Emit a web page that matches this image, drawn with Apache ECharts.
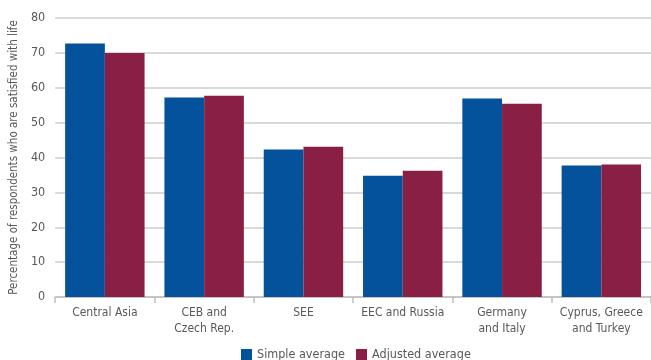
<!DOCTYPE html>
<html>
<head>
<meta charset="utf-8">
<script src="https://cdn.jsdelivr.net/npm/echarts@6/dist/echarts.min.js"></script>
<style>
  html, body { margin: 0; padding: 0; background: #fff; }
  #chart { width: 651px; height: 360px; }
</style>
</head>
<body>
<div id="chart"></div>
<script>
// regions on the x axis
var categories = ['Central Asia', 'CEB and\nCzech Rep.', 'SEE', 'EEC and Russia', 'Germany\nand Italy', 'Cyprus, Greece\nand Turkey'];
var simpleAvg = [72.7, 57.2, 42.3, 34.8, 56.9, 37.7];
var adjustedAvg = [70.0, 57.7, 43.1, 36.2, 55.4, 38.0];
var yTicks = [0, 10, 20, 30, 40, 50, 60, 70, 80];

var font = '"Liberation Sans Narrow", "DejaVu Sans Condensed", sans-serif';
var grey = '#595959';

var myChart = echarts.init(document.getElementById('chart'));
var option = {
  animation: false,
  textStyle: { fontFamily: font },
  grid: { left: 55, top: 18, width: 606, bottom: 63 },
  legend: {
    data: ['Simple average', 'Adjusted average'],
    top: 343,
    left: 236,
    icon: 'rect',
    itemWidth: 11,
    itemHeight: 11,
    itemGap: 11,
    textStyle: { color: grey, fontSize: 12.5, fontFamily: font }
  },
  xAxis: {
    type: 'category',
    data: categories,
    axisLine: { lineStyle: { color: '#bfbfbf', width: 1.5 } },
    axisTick: { show: true, length: 6, lineStyle: { color: '#bfbfbf', width: 1.5 } },
    axisLabel: { color: grey, fontSize: 12, fontFamily: font, margin: 8, lineHeight: 16, interval: 0 }
  },
  yAxis: {
    type: 'value',
    min: yTicks[0],
    max: yTicks[yTicks.length - 1],
    interval: 10,
    name: 'Percentage of respondents who are satisfied with life',
    nameLocation: 'middle',
    nameGap: 35,
    nameTextStyle: { color: grey, fontSize: 11.5, fontFamily: font },
    axisLine: { show: false },
    axisTick: { show: false },
    axisLabel: { color: grey, fontSize: 12.5, fontFamily: font, margin: 10 },
    splitLine: { lineStyle: { color: '#cccccc', width: 1.5 } }
  },
  series: [
    {
      name: 'Simple average',
      type: 'bar',
      data: simpleAvg,
      itemStyle: { color: '#03529b' },
      barGap: '0%',
      barCategoryGap: '20%'
    },
    {
      name: 'Adjusted average',
      type: 'bar',
      data: adjustedAvg,
      itemStyle: { color: '#8a1f45' }
    }
  ]
};
myChart.setOption(option);
</script>
</body>
</html>
